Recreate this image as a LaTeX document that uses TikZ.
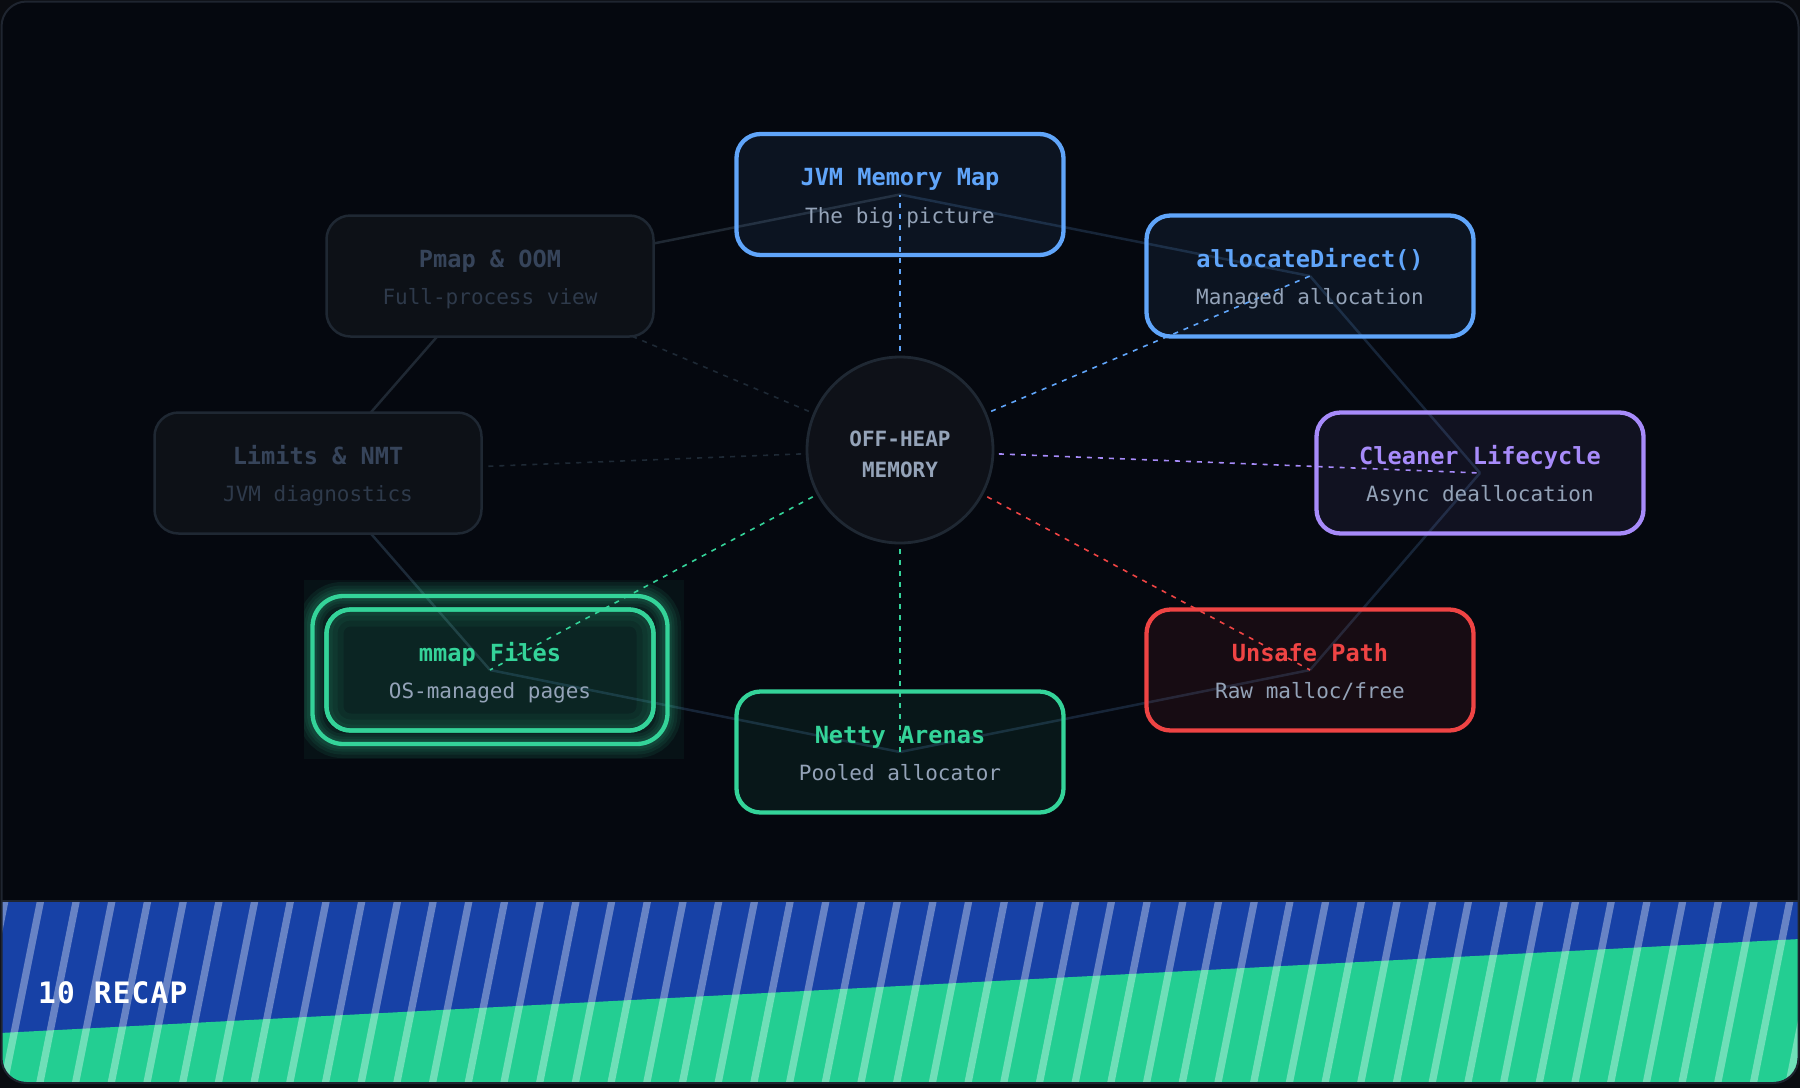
\documentclass[tikz,border=0pt]{standalone}
\usepackage{fontspec}
\usetikzlibrary{calc}
\newfontfamily\mono{DejaVu Sans Mono}
\newfontfamily\monospaced{DejaVu Sans Mono}[LetterSpace=4]
\definecolor{outer}{HTML}{0A0C11}
\definecolor{bg}{HTML}{05080F}
\definecolor{cardborder}{HTML}{1F2530}
\definecolor{cblue}{HTML}{60A5FA}
\definecolor{cpurple}{HTML}{A78BFA}
\definecolor{cred}{HTML}{EF4444}
\definecolor{cgreen}{HTML}{34D399}
\definecolor{subc}{HTML}{94A3B8}
\definecolor{dimfill}{HTML}{0D1117}
\definecolor{dimline}{HTML}{1F2833}
\definecolor{dimtitle}{HTML}{36445A}
\definecolor{dimsub}{HTML}{2E3A4B}
\definecolor{octblue}{HTML}{172538}
\definecolor{octmid}{HTML}{1D2A38}
\definecolor{dimspoke}{HTML}{1E2935}
\definecolor{circfill}{HTML}{0E1118}
\definecolor{bandblue}{HTML}{1741A6}
\definecolor{bandgreen}{HTML}{23CE92}
\begin{document}
\begin{tikzpicture}[x=1pt,y=-1pt]
\tikzset{
  octline/.style={line width=2.5pt},
  spoke/.style={line width=1.6pt, dash pattern=on 5pt off 6pt},
  boxbase/.style={rectangle, rounded corners=24pt, minimum width=327pt, minimum height=121pt, inner sep=0pt},
  activebox/.style={boxbase, draw=#1, line width=4.3pt, fill=#1, fill opacity=0.08},
  dimbox/.style={boxbase, draw=dimline, line width=2.5pt, fill=dimfill},
  ttl/.style={font=\mono\bfseries\fontsize{23.6}{28}\selectfont, anchor=base, inner sep=0pt},
  sub/.style={font=\mono\fontsize{21}{25}\selectfont, anchor=base, inner sep=0pt},
}
% page and card
\fill[outer] (0,0) rectangle (1800,1088);
\useasboundingbox (0,0) rectangle (1800,1088);
\fill[bg, rounded corners=25pt] (1.5,1.5) rectangle (1798.5,1083);
% bottom band
\begin{scope}
  \clip[rounded corners=24pt] (2,2) rectangle (1798,1082);
  \fill[bandblue] (0,901) rectangle (1800,1088);
  \fill[bandgreen] (0,1033) -- (1800,939) -- (1800,1088) -- (0,1088) -- cycle;
  \foreach \k in {-2,...,52} {
    \pgfmathsetmacro{\xa}{4.8+35.7*\k}
    \fill[white, opacity=0.35] ({\xa-3.7},901) -- ({\xa+3.7},901) -- ({\xa+3.7-36.2},1082) -- ({\xa-3.7-36.2},1082) -- cycle;
  }
\end{scope}
\draw[cardborder, line width=1.5pt] (2,901) -- (1798,901);
\draw[cardborder, line width=2pt, rounded corners=25pt] (1.5,1.5) rectangle (1798.5,1083);
\node[font=\monospaced\bfseries\fontsize{29.5}{36}\selectfont, text=white, anchor=base west, inner sep=0pt] (recap) at (38,1003) {10 RECAP};

% positions
\coordinate (cC) at (900,450);
\coordinate (pJVM) at (900,194.5);
\coordinate (pAD) at (1310,276);
\coordinate (pCL) at (1480,473);
\coordinate (pUN) at (1310,670);
\coordinate (pNE) at (900,752);
\coordinate (pMM) at (490,670);
\coordinate (pLI) at (318,473);
\coordinate (pPM) at (490,276);

% octagon ring
\draw[octline, dimline] (pPM) -- (pJVM);
\draw[octline, octblue] (pJVM) -- (pAD);
\draw[octline, octblue] (pAD) -- (pCL);
\draw[octline, octblue] (pCL) -- (pUN);
\draw[octline, octblue] (pUN) -- (pNE);
\draw[octline, octblue] (pNE) -- (pMM);
\draw[octline, octmid] (pMM) -- (pLI);
\draw[octline, dimline] (pLI) -- (pPM);

% spokes
\draw[spoke, cblue] (cC) -- (pJVM);
\draw[spoke, cblue] (cC) -- (pAD);
\draw[spoke, cpurple] (cC) -- (pCL);
\draw[spoke, cred] (cC) -- (pUN);
\draw[spoke, cgreen] (cC) -- (pNE);
\draw[spoke, cgreen] (cC) -- (pMM);
\draw[spoke, dimspoke] (cC) -- (pLI);
\draw[spoke, dimspoke] (cC) -- (pPM);

% mmap glow
\begin{scope}
  \clip (304,580) rectangle (684,759);
  \fill[cgreen, opacity=0.05] (304,580) rectangle (684,759);
  \foreach \w in {28,21,15,10} {
    \draw[cgreen, opacity=0.08, line width=\w pt, rounded corners=30pt] (312,596) rectangle (667,744);
  }
\end{scope}
\node[rectangle, rounded corners=31pt, minimum width=355pt, minimum height=148pt, draw=cgreen, line width=4.3pt] (mmring) at (pMM) {};

% boxes
\node[activebox=cblue] (bJVM) at (pJVM) {};
\node[activebox=cblue] (bAD) at (pAD) {};
\node[activebox=cpurple] (bCL) at (pCL) {};
\node[activebox=cred] (bUN) at (pUN) {};
\node[activebox=cgreen] (bNE) at (pNE) {};
\node[activebox=cgreen, fill opacity=0.1] (bMM) at (pMM) {};
\begin{scope}
  \clip[rounded corners=24pt] (326.5,609.5) rectangle (653.5,730.5);
  \foreach \w in {34,22,12} {
    \draw[cgreen, opacity=0.06, line width=\w pt, rounded corners=24pt] (326.5,609.5) rectangle (653.5,730.5);
  }
\end{scope}
\node[boxbase, draw=cgreen, line width=4.3pt] (bMMo) at (pMM) {};
\node[dimbox] (bLI) at (pLI) {};
\node[dimbox] (bPM) at (pPM) {};

% center circle
\node[circle, minimum size=186pt, inner sep=0pt, fill=circfill, draw=dimline, line width=2.8pt] (hub) at (cC) {};
\node[font=\mono\bfseries\fontsize{21}{25}\selectfont, text=subc, anchor=base, inner sep=0pt] (hub1) at ($(cC)+(0,-4)$) {OFF-HEAP};
\node[font=\mono\bfseries\fontsize{21}{25}\selectfont, text=subc, anchor=base, inner sep=0pt] (hub2) at ($(cC)+(0,27.7)$) {MEMORY};

% labels
\node[ttl, text=cblue] (tJVM) at ($(pJVM)+(0,-8.8)$) {JVM Memory Map};
\node[sub, text=subc] (sJVM) at ($(pJVM)+(0,28.8)$) {The big picture};
\node[ttl, text=cblue] (tAD) at ($(pAD)+(0,-8.8)$) {allocateDirect()};
\node[sub, text=subc] (sAD) at ($(pAD)+(0,28.8)$) {Managed allocation};
\node[ttl, text=cpurple] (tCL) at ($(pCL)+(0,-8.8)$) {Cleaner Lifecycle};
\node[sub, text=subc] (sCL) at ($(pCL)+(0,28.8)$) {Async deallocation};
\node[ttl, text=cred] (tUN) at ($(pUN)+(0,-8.8)$) {Unsafe Path};
\node[sub, text=subc] (sUN) at ($(pUN)+(0,28.8)$) {Raw malloc/free};
\node[ttl, text=cgreen] (tNE) at ($(pNE)+(0,-8.8)$) {Netty Arenas};
\node[sub, text=subc] (sNE) at ($(pNE)+(0,28.8)$) {Pooled allocator};
\node[ttl, text=cgreen] (tMM) at ($(pMM)+(0,-8.8)$) {mmap Files};
\node[sub, text=subc] (sMM) at ($(pMM)+(0,28.8)$) {OS-managed pages};
\node[ttl, text=dimtitle] (tLI) at ($(pLI)+(0,-8.8)$) {Limits \& NMT};
\node[sub, text=dimsub] (sLI) at ($(pLI)+(0,28.8)$) {JVM diagnostics};
\node[ttl, text=dimtitle] (tPM) at ($(pPM)+(0,-8.8)$) {Pmap \& OOM};
\node[sub, text=dimsub] (sPM) at ($(pPM)+(0,28.8)$) {Full-process view};
\end{tikzpicture}
\end{document}
